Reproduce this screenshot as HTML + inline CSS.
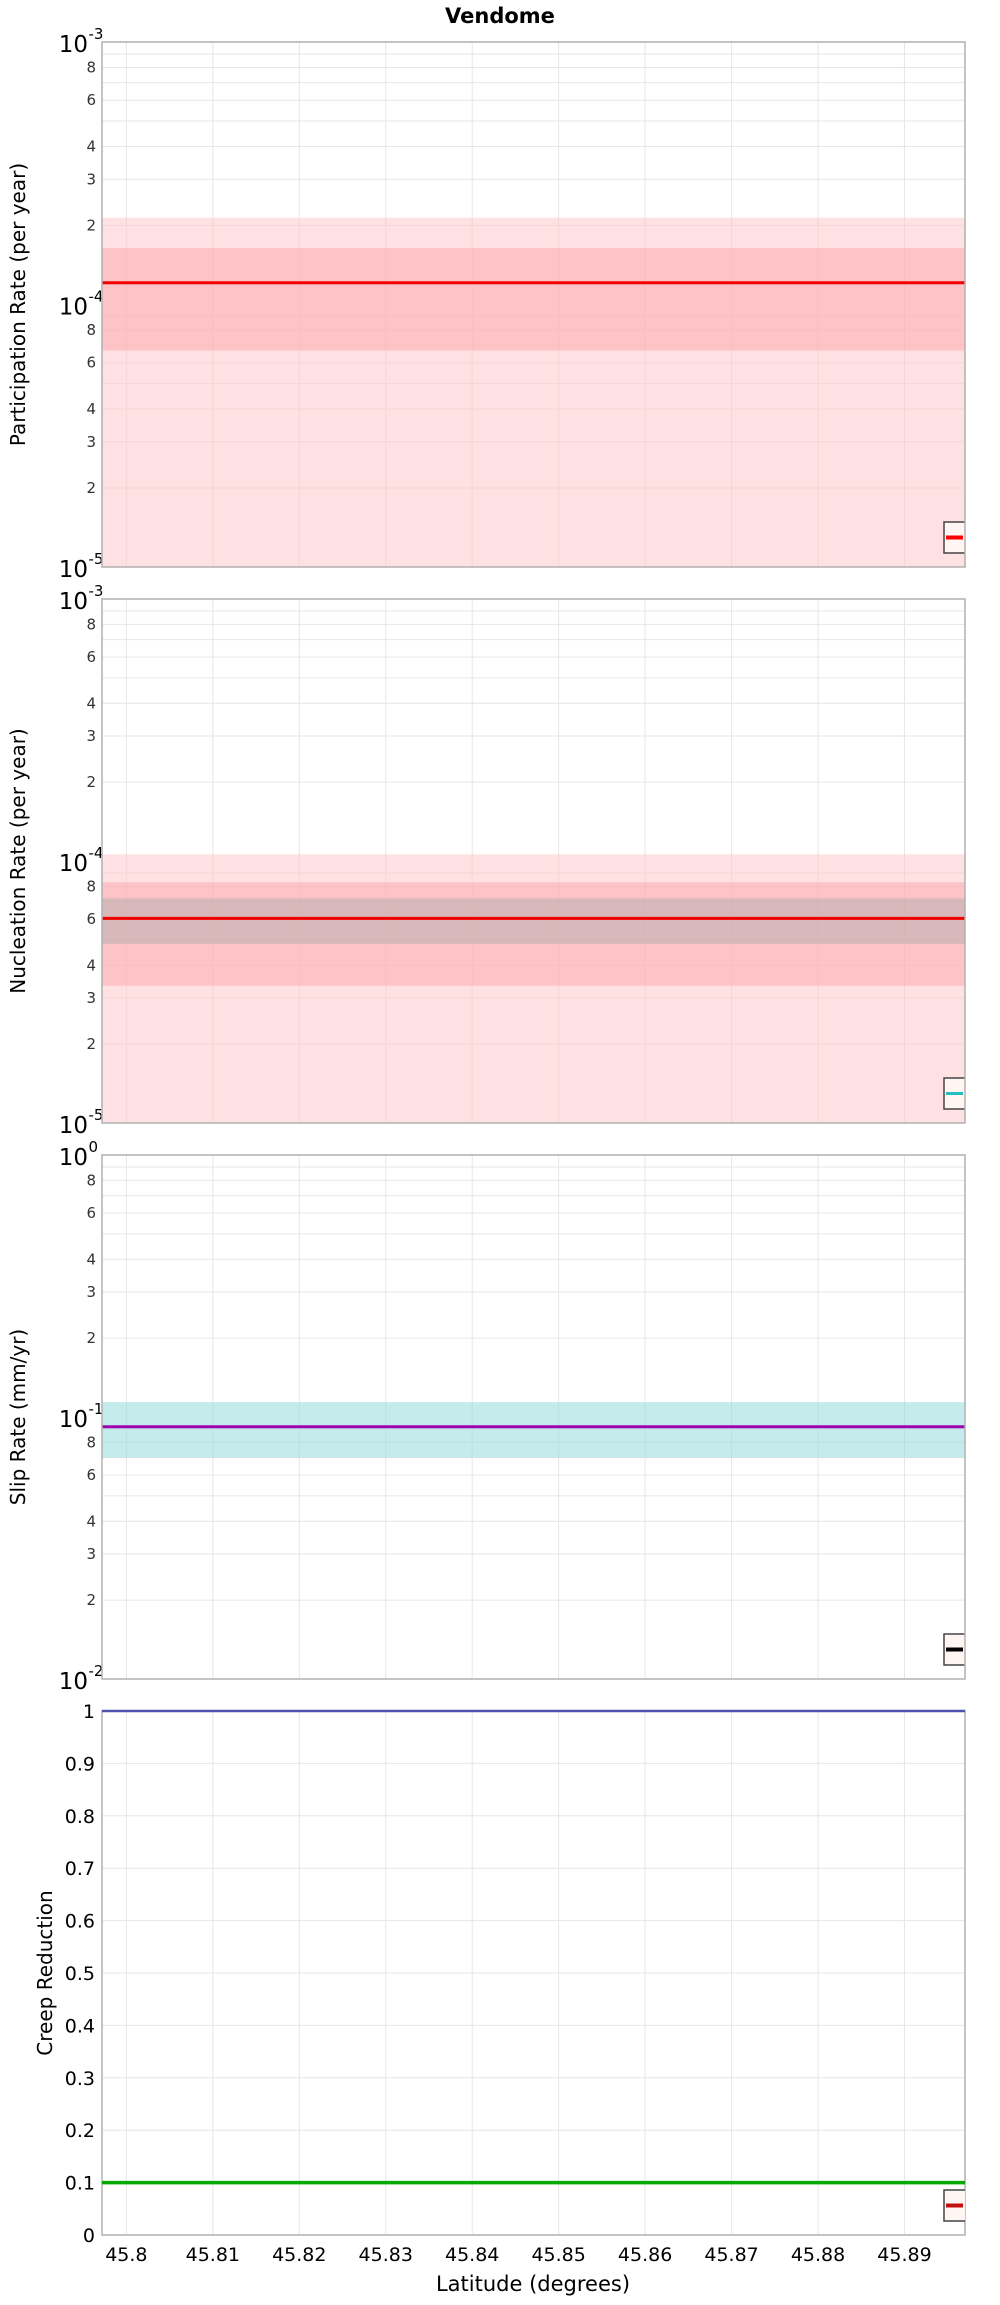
<!DOCTYPE html>
<html><head><meta charset="utf-8"><style>
body{margin:0;background:#fff}
svg text{font-family:"DejaVu Sans","Liberation Sans",sans-serif}
</style></head><body>
<svg id="c" width="1000" height="2300" xmlns="http://www.w3.org/2000/svg">
<defs id="defs"></defs>
<text x="500" y="23" text-anchor="middle" font-size="21" font-weight="bold">Vendome</text>
<g id="g"></g>
</svg>
<script>
const xTicks = [45.80,45.81,45.82,45.83,45.84,45.85,45.86,45.87,45.88,45.89];
const xTickLabels = ["45.8","45.81","45.82","45.83","45.84","45.85","45.86","45.87","45.88","45.89"];
const xDomain = [45.79718, 45.8970];
// panel 1: participation rate
const p1Line = 1.21e-4;
const p1Outer = [5e-6, 2.14e-4];
const p1Inner = [6.68e-5, 1.64e-4];
// panel 2: nucleation rate
const p2Line = 6.04e-5;
const p2Outer = [5e-6, 1.06e-4];
const p2Mid = [3.34e-5, 8.3e-5];
const p2Gray = [4.83e-5, 7.2e-5];
// panel 3: slip rate
const p3Line = 0.0918;
const p3Band = [0.070, 0.114];
// panel 4: creep reduction
const p4Blue = 1.0;
const p4Green = 0.1;
const p4Ticks = [0,0.1,0.2,0.3,0.4,0.5,0.6,0.7,0.8,0.9,1];
const p4TickLabels = ["0","0.1","0.2","0.3","0.4","0.5","0.6","0.7","0.8","0.9","1"];

const NS="http://www.w3.org/2000/svg";
const G=document.getElementById('g');
const D=document.getElementById('defs');
const L=102,R=965;
let clipId='';
function xs(v){return L+(v-xDomain[0])/(xDomain[1]-xDomain[0])*(R-L);}
function mk(tag,at,parent){const e=document.createElementNS(NS,tag);for(const k in at)e.setAttribute(k,at[k]);(parent||G).appendChild(e);return e;}
function logScale(top,bot,lmax,lmin){return v=>top+(lmax-Math.log10(v))/(lmax-lmin)*(bot-top);}
function linScale(top,bot,max,min){return v=>top+(max-v)/(max-min)*(bot-top);}
function setClip(id,top,bot){
  const cp=mk('clipPath',{id:id},D);
  mk('rect',{x:L,y:top,width:R-L,height:bot-top},cp);
  clipId=id;
}
function band(ys,range,color,name){
  const y1=ys(range[1]),y2=ys(range[0]);
  const r=mk('rect',{x:L,y:y1,width:R-L,height:y2-y1,fill:color,'clip-path':`url(#${clipId})`});
  
  
}
function hline(ys,v,color,w,name){
  const y=ys(v);
  const l=mk('line',{x1:L,x2:R,y1:y,y2:y,stroke:color,'stroke-width':w});
  
  
}
function xgrid(top,bot){
  xTicks.forEach(t=>{const x=xs(t);const l=mk('line',{x1:x,x2:x,y1:top,y2:bot,stroke:'#e6e6e6','stroke-width':1});
  
  });
}
function frame(top,bot,name){
  const r=mk('rect',{x:L,y:top,width:R-L,height:bot-top,fill:'none',stroke:'#b0b0b0','stroke-width':1.5});
  
  
}
function ytitle(text,cx,cy,name){
  const t=mk('text',{x:cx,y:cy,'text-anchor':'middle','font-size':20,transform:`rotate(-90 ${cx} ${cy})`,'dominant-baseline':'central'});
  t.textContent=text;
  
  
}
function legend(y,color,w,name){
  const g=mk('g',{'clip-path':`url(#${clipId})`});
  
  
  mk('rect',{x:944,y:y,width:40,height:31,fill:'#fff6f4',stroke:'#444','stroke-width':1.5},g);
  mk('line',{x1:946,x2:963,y1:y+15.5,y2:y+15.5,stroke:color,'stroke-width':w},g);
}
function logPanel(top,bot,lmax,lmin){
  const ys=logScale(top,bot,lmax,lmin);
  for(let d=lmin;d<lmax;d++){
    for(let m=1;m<=9;m++){
      const v=m*Math.pow(10,d);const y=ys(v);
      if(m>1){const l=mk('line',{x1:L,x2:R,y1:y,y2:y,stroke:'#e6e6e6','stroke-width':1});
        
        }
      if([2,3,4,6,8].includes(m)){
        const t=mk('text',{x:96,y:y+5,'text-anchor':'end','font-size':15,fill:'#333'});t.textContent=String(m);
        
        
      }
    }
  }
  for(let d=lmin;d<=lmax;d++){
    const y=ys(Math.pow(10,d));
    const t=mk('text',{x:88,y:y+10,'text-anchor':'end','font-size':23});t.textContent='10';
    
    
    const s=mk('text',{x:88.5,y:y-3,'text-anchor':'start','font-size':15});s.textContent=String(d);
    
    
  }
  return ys;
}

// Panel 1
let T=42,B=567;
setClip('clip1',T,B);
let ys=logPanel(T,B,-3,-5); xgrid(T,B);
band(ys,p1Outer,'rgba(254,200,202,0.55)','p1-outer-band');
band(ys,p1Inner,'rgba(252,160,165,0.45)','p1-inner-band');
hline(ys,p1Line,'#f00000',3,'p1-participation-line');
legend(522,'#ff0000',4,'p1-legend');
frame(T,B,'p1-plot-frame');
ytitle('Participation Rate (per year)',18,(T+B)/2,'p1-y-axis-title');

// Panel 2
T=599;B=1123;
setClip('clip2',T,B);
ys=logPanel(T,B,-3,-5); xgrid(T,B);
band(ys,p2Outer,'rgba(254,200,202,0.55)','p2-outer-band');
band(ys,p2Mid,'rgba(252,160,165,0.45)','p2-mid-band');
band(ys,p2Gray,'rgba(170,170,170,0.45)','p2-gray-band');
hline(ys,p2Line,'#f00000',3,'p2-nucleation-line');
legend(1078,'#20c0c0',3,'p2-legend');
frame(T,B,'p2-plot-frame');
ytitle('Nucleation Rate (per year)',18,(T+B)/2,'p2-y-axis-title');

// Panel 3
T=1155;B=1679;
setClip('clip3',T,B);
ys=logPanel(T,B,0,-2); xgrid(T,B);
band(ys,p3Band,'rgba(150,220,220,0.55)','p3-slip-band');
hline(ys,p3Line,'#a000b0',3,'p3-slip-line');
legend(1634,'#000',4,'p3-legend');
frame(T,B,'p3-plot-frame');
ytitle('Slip Rate (mm/yr)',18,(T+B)/2,'p3-y-axis-title');

// Panel 4
T=1711;B=2235;
setClip('clip4',T,B);
ys=linScale(T,B,1,0);
p4Ticks.forEach((v,i)=>{
  const y=ys(v);
  if(i>0&&i<p4Ticks.length-1){const l=mk('line',{x1:L,x2:R,y1:y,y2:y,stroke:'#e6e6e6','stroke-width':1});
    
    }
  const t=mk('text',{x:95,y:y+7,'text-anchor':'end','font-size':19});t.textContent=p4TickLabels[i];
  
  
});
xgrid(T,B);
frame(T,B,'p4-plot-frame');
hline(ys,p4Blue,'#5050b0',2.5,'p4-blue-line');
hline(ys,p4Green,'#00a800',3.5,'p4-green-line');
legend(2190,'#c01010',4,'p4-legend');
ytitle('Creep Reduction',45,(T+B)/2,'p4-y-axis-title');

xTicks.forEach((t,i)=>{
  const tx=mk('text',{x:xs(t),y:2261,'text-anchor':'middle','font-size':19});tx.textContent=xTickLabels[i];
  
  
});
const xt=mk('text',{x:533,y:2291,'text-anchor':'middle','font-size':21});xt.textContent='Latitude (degrees)';


</script>
</body></html>
